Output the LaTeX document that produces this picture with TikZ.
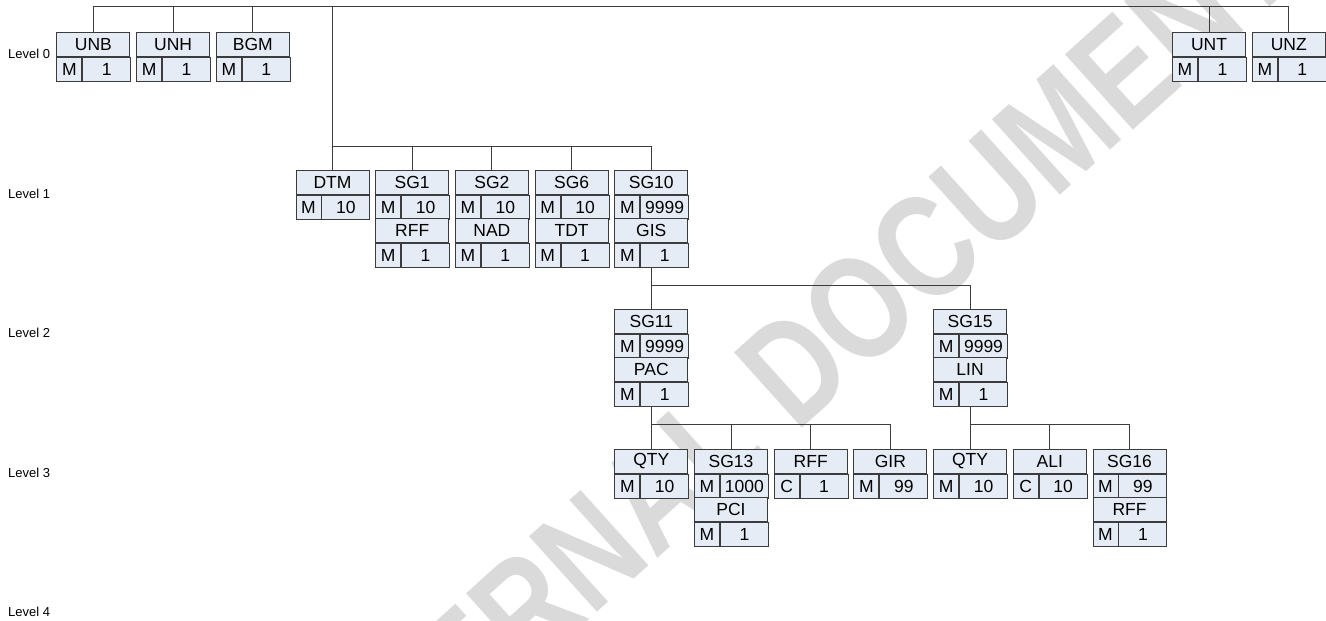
\documentclass[tikz,border=0pt]{standalone}
\usepackage{fontspec}
\setmainfont{Liberation Sans}
\usepackage{tikz}
\usepackage{xcolor}
\usetikzlibrary{positioning}

\definecolor{boxfill}{RGB}{230,236,246}
\definecolor{boxline}{RGB}{60,60,60}
\definecolor{wmgray}{RGB}{218,218,218}

\tikzset{
  cell/.style={draw=boxline, fill=boxfill, line width=0.9pt, inner sep=0pt,
    minimum height=24pt, font=\fontsize{17.5}{20}\selectfont},
  hdr/.style={cell, minimum width=73pt, anchor=north},
  stat/.style={cell, minimum width=25pt, anchor=north west},
  rep/.style={cell, minimum width=48pt, anchor=north west},
  link/.style={draw=boxline, line width=0.9pt},
  lvl/.style={anchor=west, inner sep=0pt, font=\fontsize{13}{15}\selectfont},
  wmark/.style={text=wmgray, inner sep=0pt, font=\bfseries\fontsize{118}{118}\selectfont}
}

% one segment: id, x, top y, tag, status, repeats
\newcommand{\segbox}[6]{%
  \node[hdr] (#1) at (#2,#3) {#4};
  \node[stat] (#1-st) at (#1.south west) {#5};
  \node[rep] (#1-rep) at (#1-st.north east) {#6};
  \coordinate (#1-b) at (#1.center |- #1-rep.south);
}
% one segment group: id, x, top y, group, status, repeats, trigger segment, status, repeats
\newcommand{\sgbox}[9]{%
  \segbox{#1}{#2}{#3}{#4}{#5}{#6}
  \segbox{#1g}{#2}{#3+48}{#7}{#8}{#9}
}

\begin{document}
\begin{tikzpicture}[x=1pt, y=-1pt]
    \useasboundingbox (0,0) rectangle (1326,621);

    % Watermark
    \begin{scope}
        \clip (0,0) rectangle (1326,621);
        \node[wmark, rotate=42] (wm) at (782,378) {\scalebox{1}[1.25]{INTERNAL DOCUMENT}};
    \end{scope}

    % Level labels
    \foreach \k in {0,...,4} {
        \node[lvl] (lvl\k) at (8, 54+139.5*\k) {Level \k};
    }

    % Bus heights
    \coordinate (bus0) at (0,6);
    \coordinate (bus1) at (0,146);
    \coordinate (bus2) at (0,285);
    \coordinate (bus3) at (0,424);

    % Level 0
    \segbox{UNB}{93.4}{32}{UNB}{M}{1}
    \segbox{UNH}{173.1}{32}{UNH}{M}{1}
    \segbox{BGM}{252.8}{32}{BGM}{M}{1}
    \segbox{UNT}{1209}{32}{UNT}{M}{1}
    \segbox{UNZ}{1288.8}{32}{UNZ}{M}{1}

    % Level 1
    \segbox{DTM}{332.5}{170}{DTM}{M}{10}
    \sgbox{SG1}{412.2}{170}{SG1}{M}{10}{RFF}{M}{1}
    \sgbox{SG2}{491.9}{170}{SG2}{M}{10}{NAD}{M}{1}
    \sgbox{SG6}{571.6}{170}{SG6}{M}{10}{TDT}{M}{1}
    \sgbox{SG10}{651.3}{170}{SG10}{M}{9999}{GIS}{M}{1}

    % Level 2
    \sgbox{SG11}{651.3}{309}{SG11}{M}{9999}{PAC}{M}{1}
    \sgbox{SG15}{970.1}{309}{SG15}{M}{9999}{LIN}{M}{1}

    % Level 3
    \segbox{QTYa}{651.3}{449}{QTY}{M}{10}
    \sgbox{SG13}{731}{449}{SG13}{M}{1000}{PCI}{M}{1}
    \segbox{RFF}{810.7}{449}{RFF}{C}{1}
    \segbox{GIR}{890.4}{449}{GIR}{M}{99}
    \segbox{QTYb}{970.1}{449}{QTY}{M}{10}
    \segbox{ALI}{1049.8}{449}{ALI}{C}{10}
    \sgbox{SG16}{1129.5}{449}{SG16}{M}{99}{RFF}{M}{1}

    % Connectors, level 0
    \draw[link] (UNB.north |- bus0) -- (UNZ.north |- bus0);
    \foreach \n in {UNB,UNH,BGM,UNT,UNZ,DTM} {
        \draw[link] (\n.north |- bus0) -- (\n.north);
    }

    % Connectors, level 1
    \draw[link] (DTM.north |- bus1) -- (SG10.north |- bus1);
    \foreach \n in {SG1,SG2,SG6,SG10} {
        \draw[link] (\n.north |- bus1) -- (\n.north);
    }

    % Connectors, level 2
    \draw[link] (SG10g-b) -- (SG11.north);
    \draw[link] (SG10g-b |- bus2) -- (SG15.north |- bus2) -- (SG15.north);

    % Connectors, level 3
    \draw[link] (SG11g-b) -- (QTYa.north);
    \draw[link] (QTYa.north |- bus3) -- (GIR.north |- bus3);
    \draw[link] (SG15g-b) -- (QTYb.north);
    \draw[link] (QTYb.north |- bus3) -- (SG16.north |- bus3);
    \foreach \n in {SG13,RFF,GIR,ALI,SG16} {
        \draw[link] (\n.north |- bus3) -- (\n.north);
    }
\end{tikzpicture}
\end{document}
